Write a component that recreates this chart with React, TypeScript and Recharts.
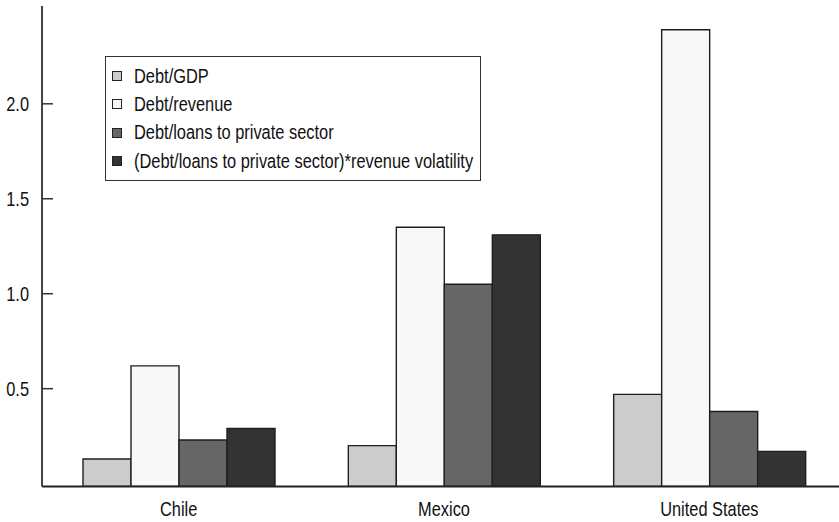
import React from 'react';
import { BarChart, Bar, XAxis, YAxis, Legend } from 'recharts';

const countries = ['Chile', 'Mexico', 'United States'];
const debtGdp = [0.13, 0.2, 0.47];
const debtRevenue = [0.62, 1.35, 2.39];
const debtLoans = [0.23, 1.05, 0.38];
const debtLoansVolatility = [0.29, 1.31, 0.17];
const yTicks = [0.5, 1.0, 1.5, 2.0];

const Y_MIN = -0.015;
const Y_MAX = 2.515;

const seriesNames = [
  'Debt/GDP',
  'Debt/revenue',
  'Debt/loans to private sector',
  '(Debt/loans to private sector)*revenue volatility',
];
const seriesColors = ['#cccccc', '#f8f8f8', '#666666', '#333333'];
const seriesValues = [debtGdp, debtRevenue, debtLoans, debtLoansVolatility];

const data = countries.map((c, i) => {
  const row: Record<string, any> = { country: c };
  seriesValues.forEach((vals, s) => {
    row['s' + s] = vals[i];
  });
  return row;
});

const FONT = "'Liberation Sans', Arial, sans-serif";
const SQUEEZE = 0.82;

const YTick = (props: any) => {
  const { x, y, payload } = props;
  return (
    <g>
      <line x1={x} x2={x + 11} y1={y} y2={y} stroke="#333" strokeWidth={1.5} />
      <text
        transform={`translate(${x - 13},${y}) scale(${SQUEEZE},1)`}
        dy="0.355em"
        textAnchor="end"
        fontFamily={FONT}
        fontSize={20}
        fill="#111"
      >
        {Number(payload.value).toFixed(1)}
      </text>
    </g>
  );
};

const XTick = (props: any) => {
  const { x, y, payload } = props;
  return (
    <text
      transform={`translate(${x},${y}) scale(${SQUEEZE},1)`}
      dy="0.71em"
      textAnchor="middle"
      fontFamily={FONT}
      fontSize={20}
      fill="#111"
    >
      {payload.value}
    </text>
  );
};

const LegendBox = (props: any) => {
  const payload = [...(props.payload || [])].sort(
    (a: any, b: any) => seriesNames.indexOf(a.value) - seriesNames.indexOf(b.value)
  );
  return (
    <div
      style={{
        width: 376,
        height: 125,
        border: '1.5px solid #333',
        background: '#fff',
        boxSizing: 'border-box',
        paddingTop: 5,
        fontFamily: FONT,
        fontSize: 20,
        color: '#111',
      }}
    >
      {payload.map((p: any, i: number) => (
        <div
          key={i}
          style={{ height: 28.3, display: 'flex', alignItems: 'center', whiteSpace: 'nowrap' }}
        >
          <span
            style={{
              display: 'inline-block',
              flexShrink: 0,
              width: 8,
              height: 8,
              marginLeft: 6,
              marginRight: 12,
              border: '1px solid #222',
              background: p.color,
            }}
          />
          <span
            style={{
              display: 'inline-block',
              transform: `scaleX(${SQUEEZE})`,
              transformOrigin: 'left center',
            }}
          >
            {p.value}
          </span>
        </div>
      ))}
    </div>
  );
};

export default function App() {
  return (
    <div
      style={{
        position: 'absolute',
        left: 0,
        top: 0,
        width: 839,
        height: 522,
        overflow: 'hidden',
        background: '#fff',
      }}
    >
      <BarChart
        width={842}
        height={522}
        data={data}
        margin={{ top: 6, right: 0, bottom: 0, left: 0 }}
        barGap={0}
        barSize={48}
      >
        <XAxis
          dataKey="country"
          height={35.5}
          padding={{ left: 4, right: 0 }}
          axisLine={{ stroke: '#222', strokeWidth: 2 }}
          tickLine={false}
          tickSize={0}
          tickMargin={15}
          tick={<XTick />}
        />
        <XAxis
          xAxisId="top"
          dataKey="country"
          orientation="top"
          height={0}
          axisLine={{ stroke: '#555', strokeWidth: 2 }}
          tickLine={false}
          tick={false}
        />
        <YAxis
          type="number"
          width={42}
          domain={[Y_MIN, Y_MAX]}
          allowDataOverflow
          ticks={yTicks}
          axisLine={{ stroke: '#444', strokeWidth: 2 }}
          tickLine={false}
          tickSize={0}
          tickMargin={0}
          tick={<YTick />}
        />
        <Legend
          layout="vertical"
          align="center"
          verticalAlign="middle"
          wrapperStyle={{ left: 105, top: 56, width: 376 }}
          content={<LegendBox />}
        />
        {seriesNames.map((name, s) => (
          <Bar
            key={s}
            name={name}
            dataKey={(d: any) => [Y_MIN, d['s' + s]]}
            fill={seriesColors[s]}
            stroke="#1e1e1e"
            strokeWidth={1.4}
            isAnimationActive={false}
          />
        ))}
      </BarChart>
    </div>
  );
}
